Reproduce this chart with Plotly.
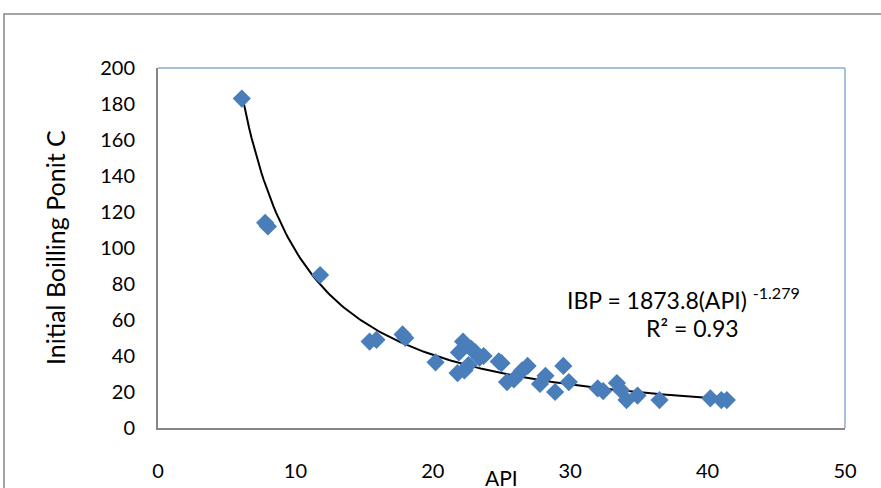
import numpy as np
import plotly.graph_objects as go

api = [6.1, 7.8, 8.0, 11.8, 15.4, 15.9, 17.8, 18.0, 20.2, 22.2, 21.9, 21.8, 22.3,
       22.6, 22.8, 23.1, 23.4, 23.7, 24.8, 25.0, 25.4, 25.9, 26.5, 26.9, 27.8,
       28.2, 28.9, 29.5, 29.9, 32.0, 32.4, 33.4, 33.7, 34.1, 34.9, 36.5, 40.2,
       41.0, 41.4]
ibp = [183, 114, 112, 85, 48, 49, 52, 50, 36.5, 48, 42, 30.5, 32,
       35, 44, 42, 39, 40, 37, 36, 25.5, 27, 32, 34.5, 24.5,
       29, 20, 34.5, 25.5, 22, 20.5, 25, 21, 15.5, 18, 15.5, 16.5,
       15.5, 15.5]

coef_a = 1873.8
coef_b = -1.279
x_ticks = [0, 10, 20, 30, 40, 50]
y_ticks = [0, 20, 40, 60, 80, 100, 120, 140, 160, 180, 200]

xf = np.linspace(min(api), max(api), 200)
yf = coef_a * xf ** coef_b

FONT = "Lato"
fig = go.Figure()
fig.add_trace(go.Scatter(x=xf, y=yf, mode="lines",
                         line=dict(color="black", width=2), hoverinfo="skip"))
fig.add_trace(go.Scatter(x=api, y=ibp, mode="markers",
                         marker=dict(symbol="diamond", size=14, color="#4a7ebb",
                                     line=dict(width=0))))

fig.update_layout(
    width=881, height=488,
    autosize=False,
    margin=dict(l=158, r=36, t=68, b=60, autoexpand=False),
    paper_bgcolor="white", plot_bgcolor="white",
    showlegend=False,
    font=dict(family=FONT, size=20, color="black"),
    xaxis=dict(range=[0, 50], tickvals=x_ticks, showgrid=False, zeroline=False,
               showline=True, linecolor="#868686", linewidth=2, ticks="",
               automargin=False,
               ticklabelstandoff=24, tickfont=dict(size=20, family=FONT)),
    yaxis=dict(range=[0, 200], tickvals=y_ticks, showgrid=False, zeroline=False,
               showline=True, linecolor="#868686", linewidth=2, ticks="",
               automargin=False,
               ticklabelstandoff=17, tickfont=dict(size=20, family=FONT)),
    shapes=[
        dict(type="line", xref="paper", yref="paper", x0=0, x1=1, y0=1, y1=1,
             line=dict(color="#a7c0e0", width=2)),
        dict(type="line", xref="paper", yref="paper", x0=1, x1=1, y0=0, y1=1,
             line=dict(color="#a7c0e0", width=2)),
        dict(type="rect", xref="paper", yref="paper",
             x0=(4 - 158) / 687, x1=(890 - 158) / 687,
             y0=(428 - 500) / 360, y1=1 + (68 - 14) / 360,
             line=dict(color="#868686", width=1.5), fillcolor="rgba(0,0,0,0)",
             layer="below"),
    ],
    annotations=[
        dict(text="IBP = 1873.8(API) <sup>-1.279</sup>", x=(683 - 158) / 13.74,
             y=(428 - 298) / 1.8, xref="x", yref="y", showarrow=False,
             xanchor="center", yanchor="middle",
             font=dict(size=23, family=FONT)),
        dict(text="R² = 0.93", x=(692 - 158) / 13.74, y=(428 - 328) / 1.8,
             xref="x", yref="y", showarrow=False,
             xanchor="center", yanchor="middle",
             font=dict(size=23, family=FONT)),
        dict(text="API", x=0.5, y=(428 - 477) / 360, xref="paper", yref="paper",
             showarrow=False, xanchor="center", yanchor="middle",
             font=dict(size=21, family=FONT)),
        dict(text="Initial Boilling Ponit C", x=(55 - 158) / 687, y=0.5,
             xref="paper", yref="paper", showarrow=False, textangle=-90,
             xanchor="center", yanchor="middle",
             font=dict(size=25, family=FONT)),
    ],
)

fig.write_html("out.html", config={"displayModeBar": False},
               post_script="document.body.style.margin='0';")
